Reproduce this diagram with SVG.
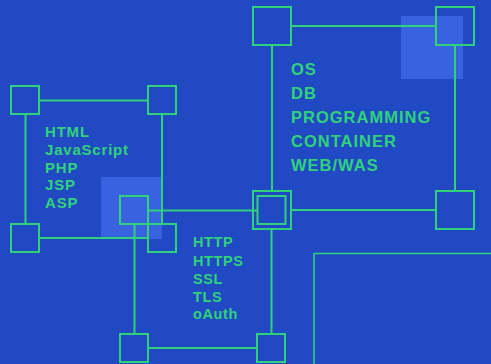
<svg xmlns="http://www.w3.org/2000/svg" width="491" height="364" viewBox="0 0 491 364">
<style>
.bg{fill:#2249c4}
.hl{fill:#3862df}
.sq{fill:none;stroke:#2fd27a;stroke-width:2}
.ln{fill:none;stroke:#2fd27a;stroke-width:2}
.bx{fill:none;stroke:#2fd27a;stroke-width:1.6}
.t{font-family:"Liberation Sans",Arial,sans-serif;font-weight:bold;fill:#2fd27a}
.t1{font-size:15px;letter-spacing:0.8px}
.t2{font-size:16.5px;letter-spacing:1px}
.t3{font-size:14.5px;letter-spacing:0.6px}
</style>
<rect class="bg" x="0" y="0" width="491" height="364"/>
<rect class="hl" x="101" y="177" width="61" height="62"/>
<rect class="hl" x="401" y="16" width="62" height="63"/>
<g id="connectors">
<line class="ln" x1="39" y1="100.5" x2="148" y2="100.5"/>
<line class="ln" x1="25.5" y1="114" x2="25.5" y2="224"/>
<line class="ln" x1="162" y1="114" x2="162" y2="224"/>
<line class="ln" x1="39" y1="238" x2="148" y2="238"/>
<line class="ln" x1="291" y1="26" x2="436" y2="26"/>
<line class="ln" x1="272" y1="45" x2="272" y2="191"/>
<line class="ln" x1="455" y1="45" x2="455" y2="191"/>
<line class="ln" x1="291" y1="210" x2="436" y2="210"/>
<line class="ln" x1="148" y1="210.5" x2="257.5" y2="210.5"/>
<line class="ln" x1="134.5" y1="224" x2="134.5" y2="334"/>
<line class="ln" x1="271.5" y1="229" x2="271.5" y2="334"/>
<line class="ln" x1="148" y1="348" x2="257" y2="348"/>
</g>
<g id="web-group">
<rect class="sq" x="11" y="86" width="28" height="28"/>
<rect class="sq" x="148" y="86" width="28" height="28"/>
<rect class="sq" x="11" y="224" width="28" height="28"/>
<rect class="sq" x="148" y="224" width="28" height="28"/>
<text class="t t1" x="45" y="137">HTML</text>
<text class="t t1" x="45" y="155">JavaScript</text>
<text class="t t1" x="45" y="173">PHP</text>
<text class="t t1" x="45" y="190">JSP</text>
<text class="t t1" x="45" y="208">ASP</text>
</g>
<g id="infra-group">
<rect class="sq" x="253" y="7" width="38" height="38"/>
<rect class="sq" x="436" y="7" width="38" height="38"/>
<rect class="sq" x="436" y="191" width="38" height="38"/>
<text class="t t2" x="291" y="75">OS</text>
<text class="t t2" x="291" y="99">DB</text>
<text class="t t2" x="291" y="123">PROGRAMMING</text>
<text class="t t2" x="291" y="147">CONTAINER</text>
<text class="t t2" x="291" y="171">WEB/WAS</text>
</g>
<g id="hub">
<rect class="sq" x="253" y="191" width="38" height="38"/>
<rect class="sq" x="257.5" y="196" width="28" height="28"/>
</g>
<g id="protocol-group">
<rect class="sq" x="120" y="196" width="28" height="28"/>
<rect class="sq" x="120" y="334" width="28" height="28"/>
<rect class="sq" x="257" y="334" width="28" height="28"/>
<text class="t t3" x="193" y="247">HTTP</text>
<text class="t t3" x="193" y="266">HTTPS</text>
<text class="t t3" x="193" y="284">SSL</text>
<text class="t t3" x="193" y="302">TLS</text>
<text class="t t3" x="193" y="319">oAuth</text>
</g>
<g id="frame">
<path class="bx" d="M314,364 V253.5 H491"/>
</g>
</svg>
